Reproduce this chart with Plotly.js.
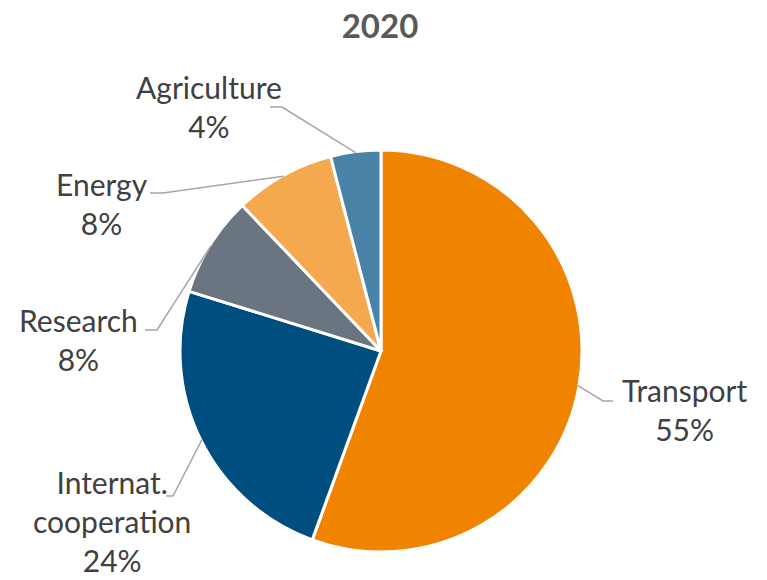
<!DOCTYPE html>
<html>
<head>
<meta charset="utf-8">
<script src="https://cdn.plot.ly/plotly-3.0.1.min.js"></script>
<style>html,body{margin:0;padding:0;background:#fff;}#chart{width:767px;height:580px;}</style>
</head>
<body>
<div id="chart"></div>
<script>
// ---- data ----
const categories = ["Transport", "Internat.<br>cooperation", "Research", "Energy", "Agriculture"];
const shares = [55, 24, 8, 8, 4];
const colors = ["#F08400", "#004E7F", "#6B7581", "#F5A94E", "#4A83A8"];
const chartTitle = "2020";

// ---- label layout (pixel positions of label blocks and leader-line elbows) ----
const labelCenters = [[684, 409], [112, 521], [78, 339], [102, 203], [209, 106]];
const elbows = [[603, 401, 613], [173, 496, 166], [157, 330, 145], [163, 193, 150], [282, 107, 270]];

const W = 767, H = 580;
const cx = 381, cy = 351, R = 201;
const px = x => x / W;
const py = y => 1 - y / H;

const total = shares.reduce((a, b) => a + b, 0);
let cum = 0;
const shapes = [];
const annotations = [];
shares.forEach((v, i) => {
  const mid = (cum + v / 2) / total * 2 * Math.PI;
  cum += v;
  const P = [cx + (R - 1) * Math.sin(mid), cy - (R - 1) * Math.cos(mid)];
  const e = elbows[i];
  shapes.push({
    type: 'path', xref: 'paper', yref: 'paper',
    path: `M ${px(P[0])} ${py(P[1])} L ${px(e[0])} ${py(e[1])} L ${px(e[2])} ${py(e[1])}`,
    line: {color: '#A6A6A6', width: 1.5}
  });
  annotations.push({
    xref: 'paper', yref: 'paper',
    x: px(labelCenters[i][0]), y: py(labelCenters[i][1]),
    xanchor: 'center', yanchor: 'middle',
    text: categories[i] + '<br>' + v + '%',
    showarrow: false,
    font: {family: 'Lato, sans-serif', size: 30, color: '#404040'}
  });
});

const trace = {
  type: 'pie',
  labels: categories,
  values: shares,
  sort: false,
  direction: 'clockwise',
  rotation: 0,
  textinfo: 'none',
  hoverinfo: 'label+percent',
  marker: {colors: colors, line: {color: '#FFFFFF', width: 3}},
  domain: {x: [px(cx - R), px(cx + R)], y: [py(cy + R), py(cy - R)]},
  showlegend: false
};

const layout = {
  width: W, height: H,
  margin: {l: 0, r: 0, t: 0, b: 0},
  paper_bgcolor: '#FFFFFF',
  title: {
    text: '<b>' + chartTitle + '</b>',
    x: 380 / W, xanchor: 'center',
    y: 1 - 26 / H, yanchor: 'middle',
    font: {family: 'Lato, sans-serif', size: 33, color: '#595959'}
  },
  shapes: shapes,
  annotations: annotations,
  showlegend: false
};

Plotly.newPlot('chart', [trace], layout, {displayModeBar: false, staticPlot: true});
</script>
</body>
</html>
